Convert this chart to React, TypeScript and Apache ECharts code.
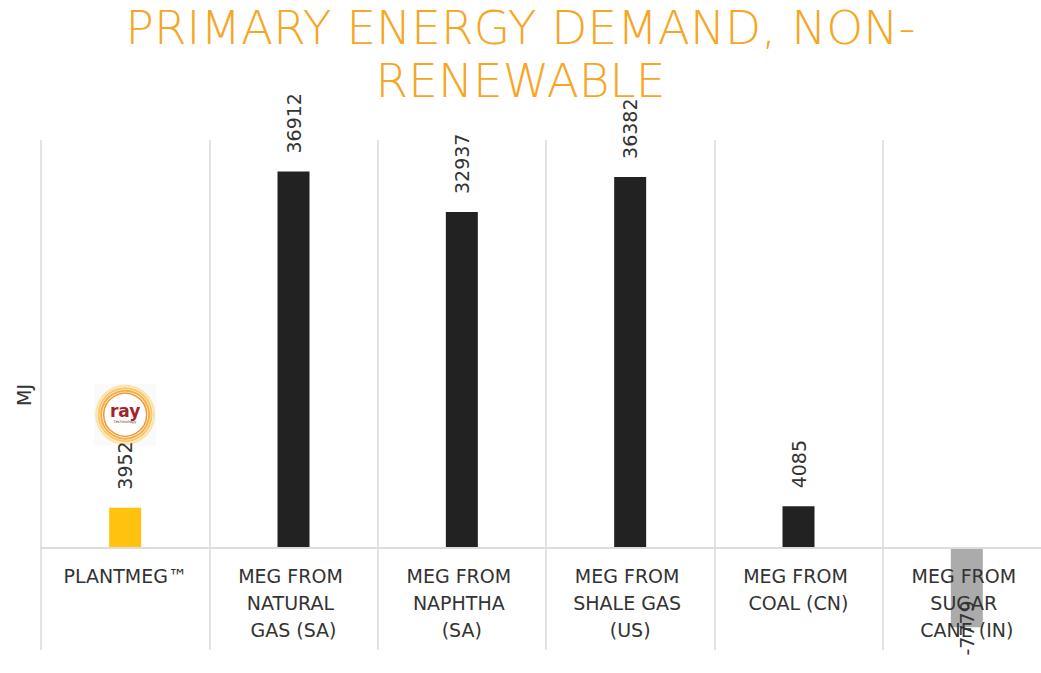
import React, { useEffect, useRef } from "react";
import * as echarts from "echarts";

const TITLE = "PRIMARY ENERGY DEMAND, NON-\nRENEWABLE";
const Y_NAME = "MJ";
const categories = [
  "PLANTMEG™",
  "MEG FROM NATURAL GAS (SA)",
  "MEG FROM NAPHTHA (SA)",
  "MEG FROM SHALE GAS (US)",
  "MEG FROM COAL (CN)",
  "MEG FROM SUGAR CANE (IN)",
];
const values = [3952, 36912, 32937, 36382, 4085, -7779];
const barColors = ["#FFC30F", "#222222", "#222222", "#222222", "#222222", "#ABABAB"];
const Y_MIN = -10000;
const Y_MAX = 40000;

export default function App() {
  const ref = useRef<HTMLDivElement>(null);
  useEffect(() => {
    if (!ref.current) return;
    const chart = echarts.init(ref.current, null, { renderer: "svg" });
    const gridTop = 140;
    const gridBottom = 23;
    const gridHeight = 673 - gridTop - gridBottom;
    const zeroOffset = (gridHeight * (0 - Y_MIN)) / (Y_MAX - Y_MIN);
    const data = values.map((v, i) => {
      const item: any = { value: v, itemStyle: { color: barColors[i] } };
      if (v < 0) {
        item.label = { position: "bottom", align: "right", distance: -27 };
      }
      return item;
    });
    chart.setOption({
      animation: false,
      title: {
        text: TITLE,
        left: "center",
        top: 1,
        padding: 0,
        textStyle: {
          fontFamily: "DejaVu Sans",
          fontWeight: 200,
          fontSize: 47,
          lineHeight: 53,
          color: "#F6A623",
        },
      },
      grid: {
        left: 41,
        right: -10,
        top: gridTop,
        bottom: gridBottom,
        containLabel: false,
        outerBoundsMode: "none",
      },
      xAxis: {
        type: "category",
        data: categories,
        offset: -zeroOffset,
        z: 3,
        axisLine: { onZero: false, lineStyle: { color: "#dcdcdc", width: 2 } },
        axisTick: { show: false },
        splitLine: { show: true, interval: 0, lineStyle: { color: "#e3e3e3", width: 2 } },
        axisLabel: {
          interval: 0,
          fontFamily: "DejaVu Sans",
          fontSize: 19,
          lineHeight: 27,
          color: "#333333",
          width: 124.5,
          overflow: "break",
          margin: 14,
        },
      },
      yAxis: {
        type: "value",
        min: Y_MIN,
        max: Y_MAX,
        name: Y_NAME,
        nameLocation: "middle",
        nameGap: 8,
        nameTextStyle: { fontFamily: "DejaVu Sans", fontSize: 19, color: "#333333" },
        axisLine: { show: false },
        axisTick: { show: false },
        axisLabel: { show: false },
        splitLine: { show: false },
      },
      series: [
        {
          type: "bar",
          data,
          barWidth: 32,
          label: {
            show: true,
            position: "top",
            rotate: 90,
            align: "left",
            verticalAlign: "middle",
            distance: 18,
            fontFamily: "DejaVu Sans",
            fontSize: 19,
            color: "#333333",
          },
        },
      ],
    });

    const [lx, barTop] = chart.convertToPixel({ xAxisIndex: 0, yAxisIndex: 0 }, [0, values[0]]) as number[];
    const cy = barTop - 93;
    chart.setOption({
      graphic: [
        {
          type: "group",
          x: lx,
          y: cy,
          children: [
            { type: "rect", shape: { x: -31, y: -31, width: 62, height: 62 }, style: { fill: "#fafafa" } },
            { type: "circle", shape: { cx: 0, cy: 0, r: 29 }, style: { fill: "none", stroke: "#FCE3A8", lineWidth: 2 } },
            { type: "circle", shape: { cx: 0, cy: 0, r: 26.5 }, style: { fill: "none", stroke: "#F9C867", lineWidth: 2 } },
            { type: "circle", shape: { cx: 0, cy: 0, r: 24 }, style: { fill: "none", stroke: "#F6AE45", lineWidth: 2 } },
            { type: "circle", shape: { cx: 0, cy: 0, r: 21.5 }, style: { fill: "#ffffff", stroke: "#F39A30", lineWidth: 1.5 } },
            {
              type: "text",
              x: 0,
              y: -4,
              style: {
                text: "ray",
                fontFamily: "DejaVu Sans",
                fontWeight: "bold",
                fontSize: 17,
                fill: "#A3232B",
                align: "center",
                verticalAlign: "middle",
              },
            },
            {
              type: "text",
              x: 0,
              y: 7,
              style: {
                text: "technology",
                fontFamily: "DejaVu Sans",
                fontSize: 4,
                fill: "#6b3a2a",
                align: "center",
                verticalAlign: "middle",
              },
            },
          ],
        },
      ],
    });

    return () => chart.dispose();
  }, []);
  return (
    <div
      ref={ref}
      style={{ position: "absolute", left: 0, top: 0, width: 1041, height: 673 }}
    />
  );
}
